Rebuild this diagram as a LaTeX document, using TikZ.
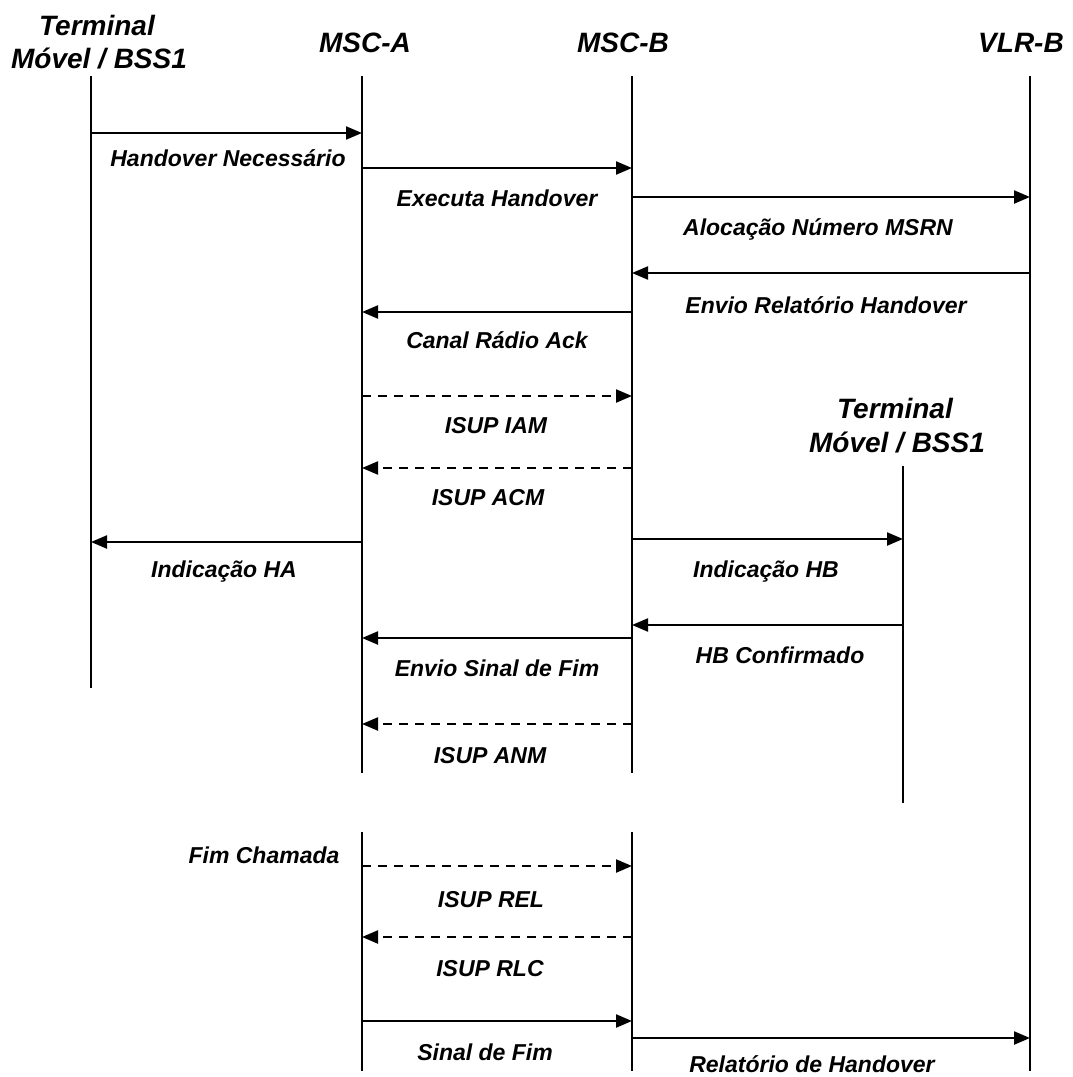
\documentclass[tikz,border=0pt]{standalone}
\usepackage{fontspec}
\setmainfont{Liberation Sans}
\usetikzlibrary{arrows.meta}
\begin{document}
\begin{tikzpicture}[x=1pt,y=-1pt,
  life/.style={line width=1.8pt},
  msg/.style={line width=2.2pt,-{Triangle[length=16pt,width=13pt]}},
  async/.style={msg,dash pattern=on 9pt off 7pt},
  head/.style={font=\fontsize{28}{33}\selectfont\bfseries\itshape,inner sep=0pt,anchor=base},
  lbl/.style={font=\fontsize{23}{27}\selectfont\bfseries\itshape,inner sep=0pt,anchor=base}]
\useasboundingbox (0,0) rectangle (1073,1077);

% participant headings
\node[head] (hT1a) at (97,35) {Terminal};
\node[head] (hT1b) at (99,68) {Móvel / BSS1};
\node[head] (hA) at (365,52) {MSC-A};
\node[head] (hB) at (623,52) {MSC-B};
\node[head] (hV) at (1021,52) {VLR-B};
\node[head] (hT2a) at (895,418) {Terminal};
\node[head] (hT2b) at (897,452) {Móvel / BSS1};

% lifelines
\coordinate (T1) at (91,76);   \coordinate (T1end) at (91,688);
\coordinate (A) at (362,76);   \coordinate (Aend) at (362,773);
\coordinate (B) at (632,76);   \coordinate (Bend) at (632,773);
\coordinate (V) at (1030,76);  \coordinate (Vend) at (1030,1071);
\coordinate (T2) at (903,466); \coordinate (T2end) at (903,803);
\coordinate (A2) at (362,832); \coordinate (A2end) at (362,1071);
\coordinate (B2) at (632,832); \coordinate (B2end) at (632,1071);
\foreach \s/\e in {T1/T1end,A/Aend,B/Bend,V/Vend,T2/T2end,A2/A2end,B2/B2end}
  \draw[life] (\s) -- (\e);

% handover phase
\draw[msg] (T1 |- 0,133) -- (A |- 0,133);
\node[lbl] (m1) at (228,166) {Handover Necessário};
\draw[msg] (A |- 0,168) -- (B |- 0,168);
\node[lbl] (m2) at (497,206) {Executa Handover};
\draw[msg] (B |- 0,197) -- (V |- 0,197);
\node[lbl] (m3) at (818,235) {Alocação Número MSRN};
\draw[msg] (V |- 0,273) -- (B |- 0,273);
\node[lbl] (m4) at (826,313) {Envio Relatório Handover};
\draw[msg] (B |- 0,312) -- (A |- 0,312);
\node[lbl] (m5) at (497,348) {Canal Rádio Ack};
\draw[async] (A |- 0,396) -- (B |- 0,396);
\node[lbl] (m6) at (496,433) {ISUP IAM};
\draw[async] (B |- 0,468) -- (A |- 0,468);
\node[lbl] (m7) at (488,505) {ISUP ACM};
\draw[msg] (A |- 0,542) -- (T1 |- 0,542);
\node[lbl] (m8) at (224,577) {Indicação HA};
\draw[msg] (B |- 0,539) -- (T2 |- 0,539);
\node[lbl] (m9) at (766,577) {Indicação HB};
\draw[msg] (T2 |- 0,625) -- (B |- 0,625);
\node[lbl] (m10) at (780,663) {HB Confirmado};
\draw[msg] (B |- 0,638) -- (A |- 0,638);
\node[lbl] (m11) at (497,676) {Envio Sinal de Fim};
\draw[async] (B |- 0,724) -- (A |- 0,724);
\node[lbl] (m12) at (490,763) {ISUP ANM};

% call release phase
\node[lbl] (fim) at (264,863) {Fim Chamada};
\draw[async] (A2 |- 0,866) -- (B2 |- 0,866);
\node[lbl] (m13) at (491,907) {ISUP REL};
\draw[async] (B2 |- 0,937) -- (A2 |- 0,937);
\node[lbl] (m14) at (490,976) {ISUP RLC};
\draw[msg] (A2 |- 0,1021) -- (B2 |- 0,1021);
\node[lbl] (m15) at (485,1060) {Sinal de Fim};
\draw[msg] (B2 |- 0,1038) -- (V |- 0,1038);
\node[lbl] (m16) at (812,1072) {Relatório de Handover};
\end{tikzpicture}
\end{document}
